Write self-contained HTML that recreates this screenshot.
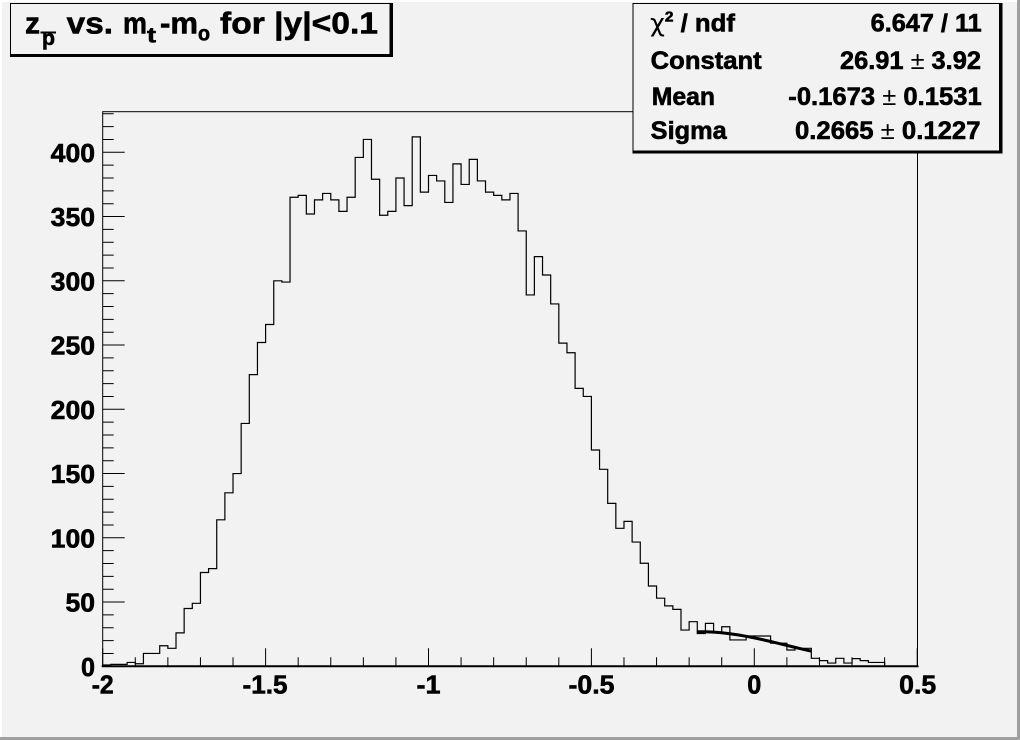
<!DOCTYPE html>
<html>
<head>
<meta charset="utf-8">
<style>
  html,body{margin:0;padding:0;background:#f2f2f2;}
  svg{display:block;}
  text{font-family:"Liberation Sans",Arial,sans-serif;font-weight:bold;fill:#000;}
  .t{stroke:#000;stroke-width:0.6;}
  .n{stroke:#000;fill:none;vector-effect:non-scaling-stroke;}
</style>
</head>
<body>
<svg width="1020" height="740" viewBox="0 0 1020 740" xmlns="http://www.w3.org/2000/svg">
  <rect x="0" y="0" width="1020" height="740" fill="#f2f2f2"/>
  <!-- canvas bevel -->
  <rect x="0" y="0" width="1020" height="2" fill="#ffffff"/>
  <rect x="0" y="0" width="2" height="740" fill="#ffffff"/>
  <rect x="1017" y="0" width="3" height="740" fill="#a0a0a0"/>
  <rect x="0" y="737" width="1020" height="3" fill="#a0a0a0"/>

  <!-- frame -->
  <rect x="102.7" y="111.7" width="814.8" height="554.6" fill="#f2f2f2" stroke="#000" stroke-width="1"/>
  <line x1="101.7" y1="666.3" x2="918.5" y2="666.3" stroke="#000" stroke-width="2"/>

  <!-- y ticks -->
  <g transform="translate(102.7,666.3) scale(1,-1.285)">
    <path class="n" stroke-width="1" d="M0 10h11M0 20h11M0 30h11M0 40h11M0 60h11M0 70h11M0 80h11M0 90h11M0 110h11M0 120h11M0 130h11M0 140h11M0 160h11M0 170h11M0 180h11M0 190h11M0 210h11M0 220h11M0 230h11M0 240h11M0 260h11M0 270h11M0 280h11M0 290h11M0 310h11M0 320h11M0 330h11M0 340h11M0 360h11M0 370h11M0 380h11M0 390h11M0 410h11M0 420h11M0 430h11"/>
    <path class="n" stroke-width="1" d="M0 0h22M0 50h22M0 100h22M0 150h22M0 200h22M0 250h22M0 300h22M0 350h22M0 400h22"/>
  </g>
  <!-- x ticks -->
  <g transform="translate(102.7,666.3) scale(32.58,1)">
    <path class="n" stroke-width="1" d="M1 0v-9M2 0v-9M3 0v-9M4 0v-9M6 0v-9M7 0v-9M8 0v-9M9 0v-9M11 0v-9M12 0v-9M13 0v-9M14 0v-9M16 0v-9M17 0v-9M18 0v-9M19 0v-9M21 0v-9M22 0v-9M23 0v-9M24 0v-9"/>
    <path class="n" stroke-width="1" d="M0 0v-18M5 0v-18M10 0v-18M15 0v-18M20 0v-18M25 0v-18"/>
  </g>

  <!-- histogram -->
  <g transform="translate(102.7,666.3) scale(8.145,-1.285)">
    <path class="n" stroke-width="1.2" d="M0 1H1V1.5H3V3H4V2H5V10H7V16H8V14H9V26H10V45H11V49H12V73H13V76H14V114H15V135H16V150H17V189H18V227H19V252H20V266H21V300H22V299H23V365H24V366.5H25V352H26V363H27V368H28V363H29V354H30V365H31V396H32V410H33V379H34V351H35V354H36V380H37V358.5H38V412H39V369H40V382H41V377.7H42V361H43V391H44V375H45V394.5H46V377.7H47V369H48V366.5H49V363H50V368H51V338.8H52V289H53V318.8H54V304.5H55V282H56V251.5H57V244H58V216.3H59V210H60V168.3H61V153.3H62V126.8H63V107.4H64V112.8H65V96.7H66V80.2H67V62.5H68V53H69V47H70V44.3H71V28.2H72V34.7H73V25.5H74V33.4H75V26.5H76V30.8H77V20.5H79V23.6H82V18H84V12.7H85V14H87V6.2H88V4.4H89V2.5H90V6.2H91V2.5H92V6H93V4.4H94V3H96V0H100"/>
    <!-- gaussian fit -->
    <path class="n" stroke-width="3" stroke-linejoin="round" d="M73 26.9L74 26.85L75 26.57L76 26.07L77 25.34L78 24.43L79 23.34L80 22.10L81 20.74L82 19.30L83 17.80L84 16.27L85 14.74L86 13.24L87 11.79"/>
  </g>

  <!-- y labels -->
  <g font-size="25.5" text-anchor="end" class="t">
    <text x="95" y="676" textLength="14" lengthAdjust="spacingAndGlyphs">0</text>
    <text x="95" y="611.7" textLength="29.5" lengthAdjust="spacingAndGlyphs">50</text>
    <text x="95" y="547.5" textLength="44.3" lengthAdjust="spacingAndGlyphs">100</text>
    <text x="95" y="483.2" textLength="44.3" lengthAdjust="spacingAndGlyphs">150</text>
    <text x="95" y="419" textLength="44.3" lengthAdjust="spacingAndGlyphs">200</text>
    <text x="95" y="354.7" textLength="44.3" lengthAdjust="spacingAndGlyphs">250</text>
    <text x="95" y="290.5" textLength="44.3" lengthAdjust="spacingAndGlyphs">300</text>
    <text x="95" y="226.2" textLength="44.3" lengthAdjust="spacingAndGlyphs">350</text>
    <text x="95" y="162" textLength="44.3" lengthAdjust="spacingAndGlyphs">400</text>
  </g>
  <!-- x labels -->
  <g font-size="25.5" text-anchor="middle" class="t">
    <text x="102.7" y="693.5" textLength="22" lengthAdjust="spacingAndGlyphs">-2</text>
    <text x="265" y="693.5" textLength="45" lengthAdjust="spacingAndGlyphs">-1.5</text>
    <text x="428.5" y="693.5" textLength="24" lengthAdjust="spacingAndGlyphs">-1</text>
    <text x="591.5" y="693.5" textLength="46" lengthAdjust="spacingAndGlyphs">-0.5</text>
    <text x="754.3" y="693.5" textLength="14" lengthAdjust="spacingAndGlyphs">0</text>
    <text x="917.7" y="693.5" textLength="37" lengthAdjust="spacingAndGlyphs">0.5</text>
  </g>

  <!-- title box -->
  <rect x="10" y="3" width="383" height="54" fill="#000"/>
  <rect x="11" y="4" width="378.5" height="50" fill="#f2f2f2"/>
  <g font-size="31" class="t">
    <text x="25" y="33.5" textLength="15" lengthAdjust="spacingAndGlyphs">z</text>
    <text x="42" y="45" font-size="21" textLength="13" lengthAdjust="spacingAndGlyphs">p</text>
    <line x1="40.5" y1="32.5" x2="56" y2="32.5" stroke="#000" stroke-width="2"/>
    <text x="66.7" y="33.5" textLength="46.3" lengthAdjust="spacingAndGlyphs">vs.</text>
    <text x="123" y="33.5" textLength="24" lengthAdjust="spacingAndGlyphs">m</text>
    <text x="147" y="42.5" font-size="21" textLength="9" lengthAdjust="spacingAndGlyphs">t</text>
    <text x="160" y="33.5" textLength="38" lengthAdjust="spacingAndGlyphs">-m</text>
    <text x="198" y="40.5" font-size="21" textLength="12" lengthAdjust="spacingAndGlyphs">o</text>
    <text x="220" y="33.5" textLength="158" lengthAdjust="spacingAndGlyphs">for |y|&lt;0.1</text>
  </g>

  <!-- stats box -->
  <rect x="632.5" y="3" width="370" height="150.5" fill="#000"/>
  <rect x="633.5" y="4" width="365.5" height="146.5" fill="#f2f2f2"/>
  <g font-size="25" class="t">
    <text x="650" y="31.7" textLength="85" lengthAdjust="spacingAndGlyphs"><tspan font-weight="normal" stroke-width="0" font-family="DejaVu Sans, sans-serif">χ</tspan><tspan font-size="15" dy="-10">2</tspan><tspan dy="10"> / ndf</tspan></text>
    <text x="981.7" y="31.7" text-anchor="end" textLength="111" lengthAdjust="spacingAndGlyphs">6.647 / 11</text>

    <text x="650.7" y="69" textLength="111" lengthAdjust="spacingAndGlyphs">Constant</text>
    <text x="981" y="69" text-anchor="end" textLength="141" lengthAdjust="spacingAndGlyphs">26.91<tspan font-weight="normal" stroke-width="0"> ± </tspan>3.92</text>

    <text x="651.7" y="105" textLength="63.3" lengthAdjust="spacingAndGlyphs">Mean</text>
    <text x="981.7" y="105" text-anchor="end" textLength="193.4" lengthAdjust="spacingAndGlyphs">-0.1673<tspan font-weight="normal" stroke-width="0"> ± </tspan>0.1531</text>

    <text x="650.7" y="139" textLength="76" lengthAdjust="spacingAndGlyphs">Sigma</text>
    <text x="980.5" y="139" text-anchor="end" textLength="185.5" lengthAdjust="spacingAndGlyphs">0.2665<tspan font-weight="normal" stroke-width="0"> ± </tspan>0.1227</text>
  </g>
</svg>
</body>
</html>
